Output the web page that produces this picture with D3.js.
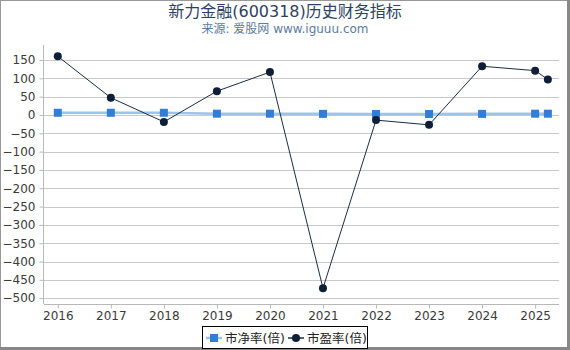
<!DOCTYPE html>
<html>
<head>
<meta charset="utf-8">
<script src="https://cdn.jsdelivr.net/npm/d3@7"></script>
<style>
  body { margin: 0; background: #fff; }
  svg { display: block; font-family: "DejaVu Sans", "Noto Sans CJK SC", sans-serif; }
</style>
</head>
<body>
<svg id="chart" width="570" height="350"></svg>
<script>
// ------- Data ------
const years = [2016, 2017, 2018, 2019, 2020, 2021, 2022, 2023, 2024, 2025, 2025.24];
const pbValues = [6, 6, 6, 3.5, 3.5, 3, 2.7, 2.7, 3, 3.5, 3.5];
const peValues = [160, 47, -19, 65, 117, -473, -14, -27, 133, 121, 97];
const xTicks = [2016, 2017, 2018, 2019, 2020, 2021, 2022, 2023, 2024, 2025];
const yTicks = [150, 100, 50, 0, -50, -100, -150, -200, -250, -300, -350, -400, -450, -500];
const seriesNames = ["市净率(倍)", "市盈率(倍)"];

const svg = d3.select("#chart");
const width = +svg.attr("width");
const height = +svg.attr("height");

const plot = { left: 44, right: 559, top: 45, bottom: 304 };

// page frame
svg.append("rect")
  .attr("x", 0.5).attr("y", 0.5)
  .attr("width", width - 1).attr("height", height - 1)
  .attr("fill", "none").attr("stroke", "#999");
svg.append("rect").attr("x", width - 3).attr("y", 0).attr("width", 3).attr("height", height).attr("fill", "#888");
svg.append("rect").attr("x", 0).attr("y", height - 3).attr("width", width).attr("height", 3).attr("fill", "#888");

// titles
svg.append("text")
  .attr("x", width / 2).attr("y", 17)
  .attr("text-anchor", "middle")
  .attr("font-size", "16px")
  .attr("fill", "#2d4263")
  .text("新力金融(600318)历史财务指标");
svg.append("text")
  .attr("x", width / 2).attr("y", 33)
  .attr("text-anchor", "middle")
  .attr("font-size", "12px")
  .attr("fill", "#5b7ca3")
  .text("来源: 爱股网 www.iguuu.com");

const x = d3.scaleLinear().domain([2015.74, 2025.45]).range([plot.left, plot.right]);
const y = d3.scaleLinear().domain([-516, 191]).range([plot.bottom, plot.top]);

// gridlines
svg.append("g")
  .selectAll("line")
  .data(yTicks)
  .join("line")
  .attr("x1", plot.left).attr("x2", plot.right)
  .attr("y1", d => Math.round(y(d)) + 0.5).attr("y2", d => Math.round(y(d)) + 0.5)
  .attr("stroke", "#c8c8c8").attr("stroke-width", 1);

// y axis
const yAxis = svg.append("g")
  .attr("transform", `translate(${plot.left - 0.5},0)`)
  .call(d3.axisLeft(y).tickValues(yTicks).tickSize(4).tickPadding(4));
yAxis.select(".domain").attr("stroke", "#b8b8b8").attr("d", `M-0,${plot.top}V${plot.bottom}`);
yAxis.selectAll(".tick line").attr("stroke", "#b8b8b8");
yAxis.selectAll("text").attr("font-size", "12px").attr("fill", "#3a3a3a").style("font-family", "DejaVu Sans");

// x axis
const xAxis = svg.append("g")
  .attr("transform", `translate(0,${plot.bottom + 0.5})`)
  .call(d3.axisBottom(x).tickValues(xTicks).tickFormat(d3.format("d")).tickSize(4).tickPadding(3));
xAxis.select(".domain").attr("stroke", "#b8b8b8").attr("d", `M${plot.left},0H${plot.right}`);
xAxis.selectAll(".tick line").attr("stroke", "#b8b8b8");
xAxis.selectAll("text").attr("font-size", "12px").attr("fill", "#3a3a3a").style("font-family", "DejaVu Sans");

// ------- Lines ------
const pbData = years.map((yr, i) => ({ x: yr, v: pbValues[i] }));
const peData = years.map((yr, i) => ({ x: yr, v: peValues[i] }));
const line = d3.line().x(d => x(d.x)).y(d => y(d.v));

svg.append("path")
  .datum(pbData)
  .attr("d", line)
  .attr("fill", "none")
  .attr("stroke", "#9cc3ea")
  .attr("stroke-width", 2.5);
svg.append("g")
  .selectAll("rect")
  .data(pbData)
  .join("rect")
  .attr("x", d => x(d.x) - 4).attr("y", d => y(d.v) - 4)
  .attr("width", 8).attr("height", 8)
  .attr("fill", "#2f7ed8");

svg.append("path")
  .datum(peData)
  .attr("d", line)
  .attr("fill", "none")
  .attr("stroke", "#1c2c44")
  .attr("stroke-width", 1);
svg.append("g")
  .selectAll("circle")
  .data(peData)
  .join("circle")
  .attr("cx", d => x(d.x)).attr("cy", d => y(d.v))
  .attr("r", 4)
  .attr("fill", "#0f1f38");

// ------- Legend ------
const legend = svg.append("g").attr("transform", "translate(202,326)");
legend.append("rect")
  .attr("x", 0.5).attr("y", 0.5)
  .attr("width", 165).attr("height", 22)
  .attr("fill", "#fff").attr("stroke", "#000");

legend.append("line").attr("x1", 4).attr("x2", 20).attr("y1", 12).attr("y2", 12)
  .attr("stroke", "#9cc3ea").attr("stroke-width", 2.5);
legend.append("rect").attr("x", 8).attr("y", 8).attr("width", 8).attr("height", 8).attr("fill", "#2f7ed8");
legend.append("text").attr("x", 23).attr("y", 16.5).attr("font-size", "12.5px").attr("fill", "#222")
  .text(seriesNames[0]);

legend.append("line").attr("x1", 86).attr("x2", 102).attr("y1", 12).attr("y2", 12)
  .attr("stroke", "#1c2c44").attr("stroke-width", 1.5);
legend.append("circle").attr("cx", 94).attr("cy", 12).attr("r", 4).attr("fill", "#0f1f38");
legend.append("text").attr("x", 105).attr("y", 16.5).attr("font-size", "12.5px").attr("fill", "#222")
  .text(seriesNames[1]);
</script>
</body>
</html>
